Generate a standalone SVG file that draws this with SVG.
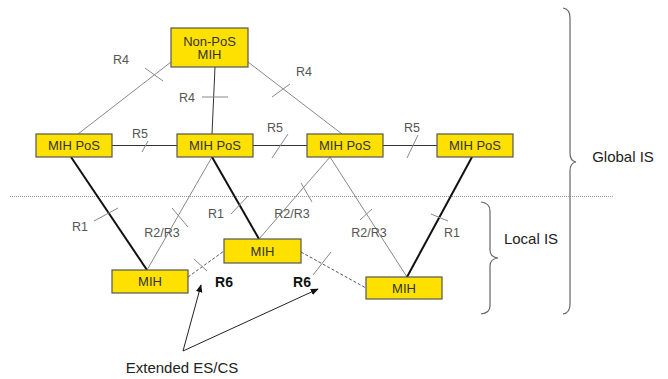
<svg xmlns="http://www.w3.org/2000/svg" width="668" height="379" viewBox="0 0 668 379">
<style>
.box{fill:#FFE100;stroke:#555;stroke-width:1.2}
.nt{font-family:"Liberation Sans",Arial,sans-serif;font-size:13px;fill:#333;text-anchor:middle}
.lb{font-family:"Liberation Sans",Arial,sans-serif;font-size:12.5px;fill:#555;text-anchor:middle}
.r6{font-family:"Liberation Sans",Arial,sans-serif;font-size:14px;font-weight:bold;fill:#111;text-anchor:middle}
.big{font-family:"Liberation Sans",Arial,sans-serif;font-size:15px;fill:#222;text-anchor:middle}
.thin{stroke:#888;stroke-width:1;fill:none}
.tk{stroke:#888;stroke-width:1;fill:none}
.thick{stroke:#111;stroke-width:2;fill:none}
.dash{stroke:#555;stroke-width:1;stroke-dasharray:3 2;fill:none}
.dark{stroke:#333;stroke-width:1;fill:none}
.brace{stroke:#666;stroke-width:1.2;fill:none}
</style>
<defs>
<marker id="ah" viewBox="0 0 10 10" refX="9" refY="5" markerWidth="8" markerHeight="8" orient="auto" markerUnits="userSpaceOnUse">
<path d="M0,1 L10,5 L0,9 z" fill="#111"/>
</marker>
</defs>
<g id="connectors">
<line class="thin" x1="171" y1="62" x2="78" y2="134"/>
<line class="tk" x1="145" y1="68" x2="163" y2="81"/>
<line class="dark" x1="215" y1="67" x2="212" y2="134"/>
<line class="tk" x1="202" y1="97" x2="228" y2="97"/>
<line class="thin" x1="248" y1="62" x2="342" y2="134"/>
<line class="tk" x1="272" y1="97" x2="290" y2="84"/>
<line class="dark" x1="112" y1="145.5" x2="177" y2="145.5"/>
<line class="tk" x1="142" y1="152" x2="148" y2="141"/>
<line class="dark" x1="253" y1="145.5" x2="307" y2="145.5"/>
<line class="tk" x1="272" y1="158" x2="288" y2="134"/>
<line class="dark" x1="383" y1="145.5" x2="437" y2="145.5"/>
<line class="tk" x1="407" y1="158" x2="418" y2="135"/>
<line x1="10" y1="196.5" x2="613" y2="196.5" stroke="#999" stroke-width="1" stroke-dasharray="1 1"/>
<line class="thick" x1="71" y1="157" x2="147" y2="270"/>
<line class="tk" x1="94" y1="221" x2="118" y2="208"/>
<line class="thin" x1="212" y1="157" x2="147" y2="270"/>
<line class="tk" x1="172" y1="208" x2="188" y2="227"/>
<line class="thick" x1="212" y1="157" x2="259" y2="239"/>
<line class="tk" x1="231" y1="214" x2="248" y2="196"/>
<line class="thin" x1="330" y1="157" x2="259" y2="239"/>
<line class="tk" x1="301" y1="183" x2="312" y2="202"/>
<line class="thin" x1="330" y1="157" x2="407" y2="277"/>
<line class="tk" x1="360" y1="220" x2="372" y2="209"/>
<line class="thick" x1="472" y1="157" x2="407" y2="277"/>
<line class="tk" x1="431" y1="214" x2="448" y2="221"/>
<line class="dash" x1="188" y1="277" x2="224" y2="251"/>
<line class="tk" x1="194" y1="259" x2="207" y2="271"/>
<line class="dash" x1="301" y1="252" x2="366" y2="288"/>
<line class="tk" x1="313" y1="275" x2="331" y2="252"/>
<line x1="183" y1="351" x2="201" y2="285" stroke="#222" stroke-width="1" marker-end="url(#ah)"/>
<line x1="183" y1="351" x2="318" y2="289" stroke="#222" stroke-width="1" marker-end="url(#ah)"/>
</g>
<g id="labels">
<text class="lb" x="121" y="63.5">R4</text>
<text class="lb" x="187" y="101.5">R4</text>
<text class="lb" x="304" y="75.5">R4</text>
<text class="lb" x="140" y="137.5">R5</text>
<text class="lb" x="275" y="131.5">R5</text>
<text class="lb" x="412" y="131.5">R5</text>
<text class="lb" x="80" y="230.5">R1</text>
<text class="lb" x="162" y="236.5">R2/R3</text>
<text class="lb" x="216" y="217.5">R1</text>
<text class="lb" x="292" y="217.5">R2/R3</text>
<text class="lb" x="369" y="236.5">R2/R3</text>
<text class="lb" x="452" y="236.5">R1</text>
<text class="r6" x="224" y="287">R6</text>
<text class="r6" x="302" y="287">R6</text>
<text class="big" x="182" y="373">Extended ES/CS</text>
</g>
<g id="nonpos">
<rect class="box" x="171" y="28" width="77" height="39"/>
<text class="nt" x="209.5" y="45.5">Non-PoS</text>
<text class="nt" x="209.5" y="59">MIH</text>
</g>
<g id="pos1"><rect class="box" x="36" y="134" width="76" height="23"/><text class="nt" x="74" y="150">MIH PoS</text></g>
<g id="pos2"><rect class="box" x="177" y="134" width="76" height="23"/><text class="nt" x="215" y="150">MIH PoS</text></g>
<g id="pos3"><rect class="box" x="307" y="134" width="76" height="23"/><text class="nt" x="345" y="150">MIH PoS</text></g>
<g id="pos4"><rect class="box" x="437" y="134" width="76" height="23"/><text class="nt" x="475" y="150">MIH PoS</text></g>
<g id="mihA"><rect class="box" x="112" y="270" width="76" height="23"/><text class="nt" x="150" y="286">MIH</text></g>
<g id="mihB"><rect class="box" x="224" y="239" width="77" height="24"/><text class="nt" x="262.5" y="255.5">MIH</text></g>
<g id="mihC"><rect class="box" x="366" y="277" width="76" height="22"/><text class="nt" x="404" y="292.5">MIH</text></g>
<g id="globalIS">
<path class="brace" d="M563,8 Q570,9 570,18 L570,153 Q570,161 576,162 Q570,163 570,171 L570,304 Q570,313 563,314"/>
<text class="big" x="623" y="161.5">Global IS</text>
</g>
<g id="localIS">
<path class="brace" d="M481,202 Q490,203 490,211 L490,250 Q490,257 498,258 Q490,259 490,266 L490,306 Q490,313 481,314"/>
<text class="big" x="531" y="244">Local IS</text>
</g>
</svg>
